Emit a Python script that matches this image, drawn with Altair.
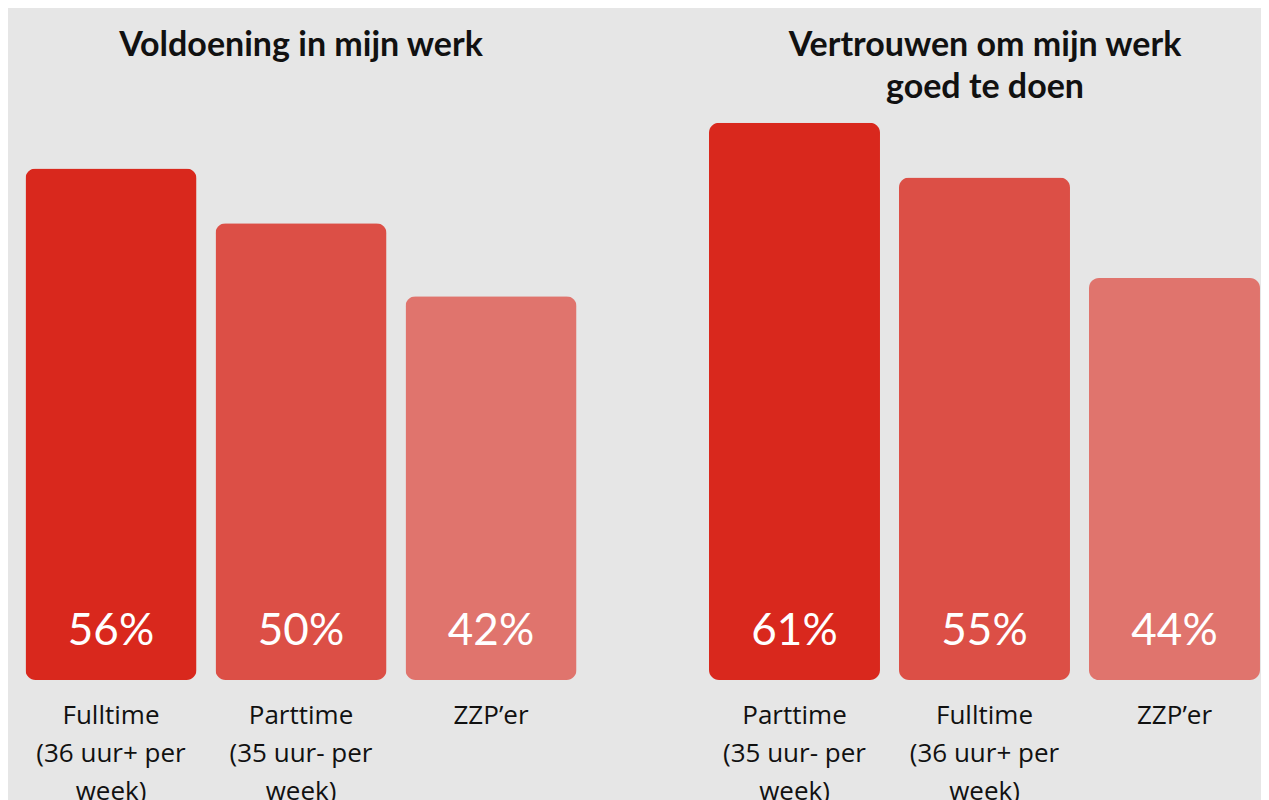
import altair as alt
import pandas as pd

# ---- data ----
left_title = ["Voldoening in mijn werk"]
left_categories = ["Fulltime|(36 uur+ per|week)", "Parttime|(35 uur- per|week)", "ZZP’er"]
left_values = [56, 50, 42]
left_rank = [1, 2, 3]

right_title = ["Vertrouwen om mijn werk", "goed te doen"]
right_categories = ["Parttime|(35 uur- per|week)", "Fulltime|(36 uur+ per|week)", "ZZP’er"]
right_values = [61, 55, 44]
right_rank = [1, 2, 3]

bar_colors = ["#d9281d", "#dc4f46", "#e0746d"]
BG = "#e6e6e6"


def panel(title_lines, cats, vals, ranks, width, pad_outer, align, title_offset, title_dx):
    df = pd.DataFrame({
        "cat": cats,
        "val": vals,
        "rank": ranks,
        "label": [f"{v}%" for v in vals],
    })
    x = alt.X(
        "cat:N",
        sort=None,
        scale=alt.Scale(paddingInner=0.1, paddingOuter=pad_outer, align=align),
        axis=alt.Axis(
            title=None,
            labelExpr="split(datum.value, '|')",
            labelFont="Open Sans",
            labelFontSize=26,
            labelLineHeight=38,
            labelColor="#111111",
            labelAngle=0,
            labelLimit=400,
            labelPadding=22,
            ticks=False,
            domain=False,
            grid=False,
        ),
    )
    y = alt.Y("val:Q", scale=alt.Scale(domain=[0, 62.4], nice=False), axis=None)
    base = alt.Chart(df).encode(x=x)
    bars = base.mark_bar(cornerRadius=10).encode(
        y=y,
        color=alt.Color("rank:O", scale=alt.Scale(domain=[1, 2, 3], range=bar_colors), legend=None),
    )
    txt = base.mark_text(
        font="Lato", fontSize=44, color="white", baseline="alphabetic", dy=-35
    ).encode(y=alt.datum(0), text="label:N")
    return alt.layer(bars, txt).properties(
        width=width,
        height=570,
        title=alt.TitleParams(
            text=title_lines,
            font="Lato",
            fontSize=34,
            fontWeight="bold",
            color="#111111",
            lineHeight=42,
            anchor="middle",
            offset=title_offset,
            dx=title_dx,
        ),
    )


left = panel(left_title, left_categories, left_values, left_rank, 586, 0.0921, 0.5, 47, 0)
right = panel(right_title, right_categories, right_values, right_rank, 570, 0.05, 0.947, 5, 9)

chart = (
    alt.hconcat(left, right, spacing=97)
    .properties(background=BG, padding={"left": 0, "right": 0, "top": 21, "bottom": 0})
    .configure_view(stroke=None)
)

chart.save("out.html", embed_options={"renderer": "svg", "actions": False})
